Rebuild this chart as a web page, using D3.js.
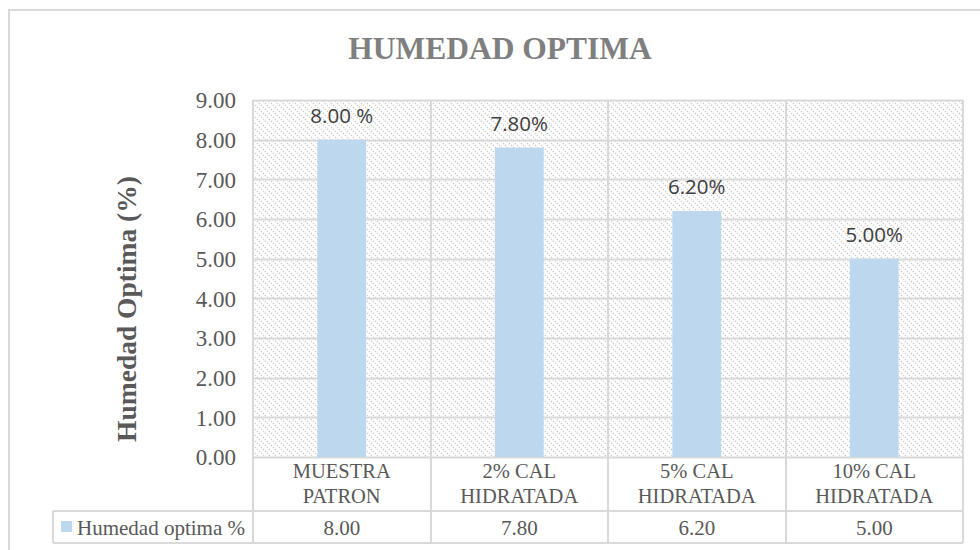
<!DOCTYPE html>
<html>
<head>
<meta charset="utf-8">
<script src="https://cdn.jsdelivr.net/npm/d3@7/dist/d3.min.js"></script>
<style>
  html, body { margin: 0; padding: 0; background: #fff; }
  svg { display: block; }
</style>
</head>
<body>
<svg id="chart" width="980" height="550"></svg>
<script>
const categories = [["MUESTRA", "PATRON"], ["2% CAL", "HIDRATADA"], ["5% CAL", "HIDRATADA"], ["10% CAL", "HIDRATADA"]];
const values = [8.00, 7.80, 6.20, 5.00];
const dataLabels = ["8.00 %", "7.80%", "6.20%", "5.00%"];
const tableValues = ["8.00", "7.80", "6.20", "5.00"];
const yTicks = [0, 1, 2, 3, 4, 5, 6, 7, 8, 9];
const seriesName = "Humedad optima %";
const titleText = "HUMEDAD OPTIMA";
const yAxisTitle = "Humedad Optima (%)";

const svg = d3.select("#chart");
const gridColor = "#d9d9d9";
const textColor = "#595959";
const barColor = "#bdd7ee";
const serif = "'Liberation Serif', 'Times New Roman', serif";

const plot = { left: 253, right: 963, top: 100, bottom: 457 };
const tableLeft = 53, catRowBottom = 511, tableBottom = 543;

// hatch pattern
const defs = svg.append("defs");
const pat = defs.append("pattern").attr("id", "hatch").attr("patternUnits", "userSpaceOnUse")
  .attr("width", 6).attr("height", 6);
pat.append("rect").attr("width", 6).attr("height", 6).attr("fill", "#fff");
pat.append("path").attr("d", "M-1,-1 L7,7 M-1,5 L1,7 M5,-1 L7,1")
  .attr("stroke", "#cccccc").attr("stroke-width", 1.2).attr("stroke-dasharray", "1.4,1.4");

// outer chart border
svg.append("rect").attr("x", 9).attr("y", 10).attr("width", 990).attr("height", 560)
  .attr("fill", "none").attr("stroke", gridColor).attr("stroke-width", 2);

const x = d3.scaleBand().domain(d3.range(categories.length)).range([plot.left, plot.right]).paddingInner(0).paddingOuter(0);
const y = d3.scaleLinear().domain([0, 9]).range([plot.bottom, plot.top]);

// plot background
svg.append("rect").attr("x", plot.left).attr("y", plot.top)
  .attr("width", plot.right - plot.left).attr("height", plot.bottom - plot.top)
  .attr("fill", "url(#hatch)");

// horizontal gridlines
svg.append("g").selectAll("line").data(yTicks).join("line")
  .attr("x1", plot.left).attr("x2", plot.right)
  .attr("y1", d => Math.round(y(d)) + 0.5).attr("y2", d => Math.round(y(d)) + 0.5)
  .attr("stroke", gridColor).attr("stroke-width", 2);

// vertical lines between categories (extend through table)
const vx = d3.range(categories.length + 1).map(i => i < categories.length ? x(i) : plot.right);
svg.append("g").selectAll("line").data(vx).join("line")
  .attr("x1", d => Math.round(d)).attr("x2", d => Math.round(d))
  .attr("y1", plot.top).attr("y2", tableBottom)
  .attr("stroke", gridColor).attr("stroke-width", 2);

// table horizontal lines
[[plot.left, catRowBottom], [tableLeft, catRowBottom], [tableLeft, tableBottom]].forEach(([x0, yy]) => {
  svg.append("line").attr("x1", x0).attr("x2", plot.right).attr("y1", yy).attr("y2", yy)
    .attr("stroke", gridColor).attr("stroke-width", 2);
});
svg.append("line").attr("x1", tableLeft).attr("x2", tableLeft).attr("y1", catRowBottom).attr("y2", tableBottom)
  .attr("stroke", gridColor).attr("stroke-width", 2);

// bars
const bw = x.bandwidth() * 0.275;
svg.append("g").selectAll("rect").data(values).join("rect")
  .attr("x", (d, i) => x(i) + x.bandwidth() / 2 - bw / 2)
  .attr("y", d => y(d))
  .attr("width", bw)
  .attr("height", d => y(0) - y(d))
  .attr("fill", barColor);

// data labels
svg.append("g").selectAll("text").data(values).join("text")
  .attr("x", (d, i) => x(i) + x.bandwidth() / 2)
  .attr("y", d => y(d) - 17)
  .attr("text-anchor", "middle")
  .attr("font-family", "'Open Sans', 'Noto Sans', sans-serif")
  .attr("font-size", 20.5)
  .attr("fill", "#404040")
  .text((d, i) => dataLabels[i]);

// y axis tick labels
const yAxis = d3.axisLeft(y).tickValues(yTicks).tickFormat(d3.format(".2f")).tickSize(0).tickPadding(0);
const ga = svg.append("g").attr("transform", `translate(${236},0)`).call(yAxis);
ga.select(".domain").remove();
ga.selectAll("text").attr("font-family", serif).attr("font-size", 23).attr("fill", textColor).attr("dy", "0.34em");

// category labels
const cat = svg.append("g").selectAll("text").data(categories).join("text")
  .attr("text-anchor", "middle")
  .attr("font-family", serif).attr("font-size", 20.5).attr("fill", textColor);
cat.each(function(d, i) {
  const t = d3.select(this);
  d.forEach((line, j) => {
    t.append("tspan").attr("x", x(i) + x.bandwidth() / 2).attr("y", 478 + j * 25).text(line);
  });
});

// table values
svg.append("g").selectAll("text").data(tableValues).join("text")
  .attr("x", (d, i) => x(i) + x.bandwidth() / 2)
  .attr("y", 535)
  .attr("text-anchor", "middle")
  .attr("font-family", serif).attr("font-size", 21).attr("fill", textColor)
  .text(d => d);

// legend key in table
svg.append("rect").attr("x", 61).attr("y", 521).attr("width", 11).attr("height", 11).attr("fill", barColor);
svg.append("text").attr("x", 77).attr("y", 535)
  .attr("font-family", serif).attr("font-size", 21).attr("fill", textColor).text(seriesName);

// title
svg.append("text").attr("x", 500).attr("y", 59).attr("text-anchor", "middle")
  .attr("font-family", serif).attr("font-weight", "bold").attr("font-size", 31.5).attr("fill", "#7f7f7f")
  .text(titleText);

// y axis title
svg.append("text").attr("transform", `translate(136,309) rotate(-90)`)
  .attr("text-anchor", "middle")
  .attr("font-family", serif).attr("font-weight", "bold").attr("font-size", 27.5).attr("fill", textColor)
  .text(yAxisTitle);
</script>
</body>
</html>
